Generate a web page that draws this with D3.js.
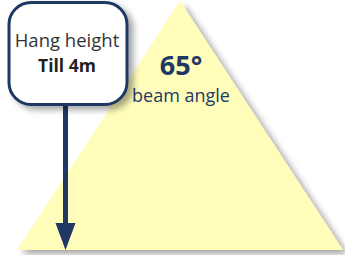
<!DOCTYPE html>
<html>
<head>
<meta charset="utf-8">
<script src="https://cdn.jsdelivr.net/npm/d3@7"></script>
<style>
  body { margin: 0; background: #fff; }
  svg { display: block; }
  text { font-family: "Open Sans", sans-serif; }
</style>
</head>
<body>
<div id="chart"></div>
<script>
// diagram values
var beamAngle = [65];          // degrees
var hangHeight = [4];          // metres
var boxLines = ["Hang height", "Till 4m"];
var angleLabels = ["65°", "beam angle"];

var width = 345, height = 255;
var navy = "#1f3864";

var svg = d3.select("#chart").append("svg")
  .attr("width", width)
  .attr("height", height);

var defs = svg.append("defs");
var f = defs.append("filter").attr("id", "shadow")
  .attr("x", "-10%").attr("y", "-10%").attr("width", "130%").attr("height", "130%");
f.append("feDropShadow")
  .attr("dx", 5).attr("dy", 4).attr("stdDeviation", 3)
  .attr("flood-color", "#000").attr("flood-opacity", 0.35);

// beam geometry in metres
var h = hangHeight[0];
var half = h * Math.tan(beamAngle[0] / 2 * Math.PI / 180);

var x = d3.scaleLinear().domain([-half, half]).range([17, 343]);
var y = d3.scaleLinear().domain([0, h]).range([250, 1]);

var tri = [[0, h], [half, 0], [-half, 0]];
svg.append("path")
  .attr("d", d3.line().x(function(d) { return x(d[0]); }).y(function(d) { return y(d[1]); })(tri) + "Z")
  .attr("fill", "#fffdb9")
  .attr("filter", "url(#shadow)");

// angle label
svg.append("text")
  .attr("x", x(0) + 1).attr("y", 75)
  .attr("text-anchor", "middle")
  .style("font-weight", "bold")
  .style("font-size", "27px")
  .attr("fill", navy)
  .text(angleLabels[0]);
svg.append("text")
  .attr("x", x(0) + 1).attr("y", 102)
  .attr("text-anchor", "middle")
  .style("font-size", "18px")
  .attr("fill", navy)
  .text(angleLabels[1]);

// hang-height arrow
var ax = 65.5;
svg.append("line")
  .attr("x1", ax).attr("x2", ax)
  .attr("y1", 104).attr("y2", 228)
  .attr("stroke", navy).attr("stroke-width", 5);
svg.append("path")
  .attr("d", "M" + (ax - 10) + ",223 L" + (ax + 10) + ",223 L" + ax + "," + y(0) + "Z")
  .attr("fill", navy);

// label box
svg.append("rect")
  .attr("x", 9).attr("y", 2.5)
  .attr("width", 118).attr("height", 102)
  .attr("rx", 22).attr("ry", 22)
  .attr("fill", "#fff")
  .attr("stroke", navy).attr("stroke-width", 3)
  .attr("filter", "url(#shadow)");

svg.append("text")
  .attr("x", 67).attr("y", 47)
  .attr("text-anchor", "middle")
  .style("font-size", "18.5px")
  .attr("fill", "#333")
  .text(boxLines[0]);
svg.append("text")
  .attr("x", 67).attr("y", 72)
  .attr("text-anchor", "middle")
  .style("font-weight", "bold")
  .style("font-size", "17.5px")
  .attr("fill", "#222")
  .text(boxLines[1]);
</script>
</body>
</html>
